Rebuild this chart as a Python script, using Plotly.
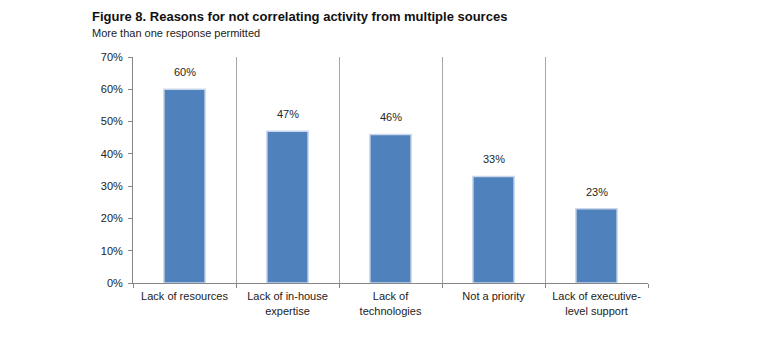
import plotly.graph_objects as go

categories = ["Lack of resources", "Lack of in-house<br>expertise", "Lack of<br>technologies",
              "Not a priority", "Lack of executive-<br>level support"]
values = [0.60, 0.47, 0.46, 0.33, 0.23]
labels = ["60%", "47%", "46%", "33%", "23%"]
y_ticks = [0, 0.1, 0.2, 0.3, 0.4, 0.5, 0.6, 0.7]

FONT = "Arial, 'Liberation Sans', sans-serif"

fig = go.Figure()
fig.add_trace(go.Bar(
    x=categories, y=values,
    marker=dict(color="#4F81BD", line=dict(color="#C9D7EA", width=1.5)),
    width=0.4, cliponaxis=False,
))

annotations = [
    dict(text="<b>Figure 8. Reasons for not correlating activity from multiple sources</b>",
         xref="paper", yref="paper", x=(90 - 133) / 515, y=(283 - 17) / 226,
         xanchor="left", yanchor="middle", showarrow=False,
         font=dict(family=FONT, size=13, color="#111")),
    dict(text="More than one response permitted",
         xref="paper", yref="paper", x=(90 - 133) / 515, y=(283 - 33) / 226,
         xanchor="left", yanchor="middle", showarrow=False,
         font=dict(family=FONT, size=11, color="#222")),
]
for c, v, t in zip(categories, values, labels):
    annotations.append(dict(text=t, x=c, y=v, xref="x", yref="y",
                            yanchor="bottom", yshift=9, showarrow=False,
                            font=dict(family=FONT, size=11, color="#262626")))

fig.update_layout(
    width=763, height=344,
    margin=dict(l=133, r=115, t=57, b=61),
    paper_bgcolor="white", plot_bgcolor="white",
    showlegend=False,
    font=dict(family=FONT, size=11, color="#222"),
    xaxis=dict(
        tickson="boundaries", showgrid=True, gridcolor="#A6A6A6", gridwidth=1,
        showline=True, linecolor="#868686", linewidth=1,
        ticks="outside", ticklen=4, tickcolor="#868686",
        tickfont=dict(family=FONT, size=11, color="#222"),
        ticklabelstandoff=3,
        range=[-0.5, 4.5],
    ),
    yaxis=dict(
        range=[0, 0.7], tickvals=y_ticks, tickformat=".0%",
        showgrid=False, zeroline=False,
        showline=True, linecolor="#868686", linewidth=1,
        ticks="outside", ticklen=4, tickcolor="#868686",
        tickfont=dict(family=FONT, size=11, color="#222"),
        ticklabelstandoff=3,
    ),
    annotations=annotations,
)

fig.write_html("out.html")
